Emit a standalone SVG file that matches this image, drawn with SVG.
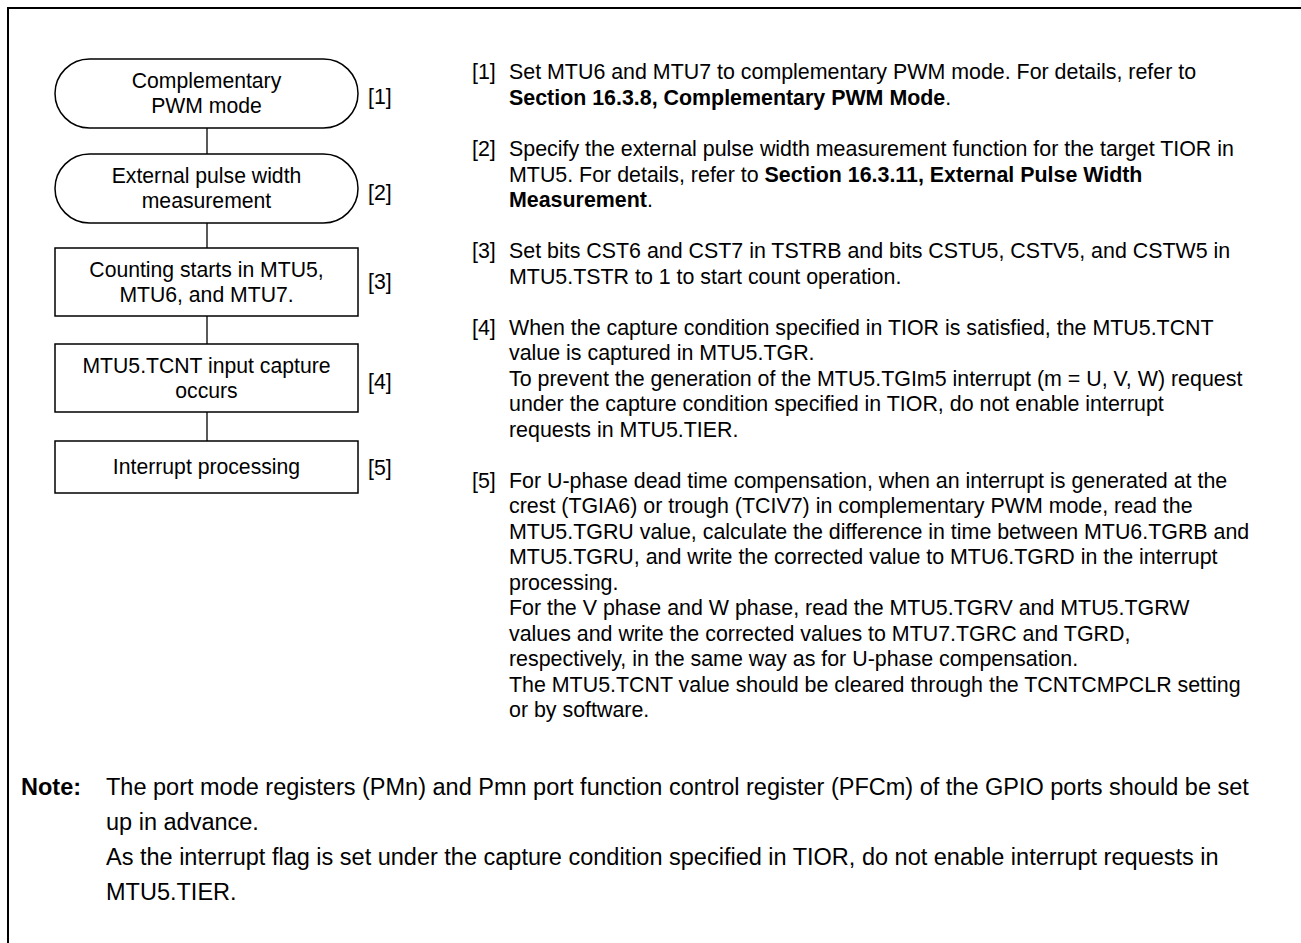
<svg xmlns="http://www.w3.org/2000/svg" width="1301" height="943" viewBox="0 0 1301 943">
<style>
text{font-family:"Liberation Sans",Arial,sans-serif;fill:#000;}
.n{font-size:21.2px;text-anchor:middle;}
.lb{font-size:21.3px;}
.t{font-size:21.4px;}
.nt{font-size:23.5px;}
.b{font-weight:bold;}
.box{fill:#fff;stroke:#000;stroke-width:1.5;}
.con{stroke:#000;stroke-width:1.3;fill:none;}
</style>
<rect width="1301" height="943" fill="#fff"/>
<path d="M8,943 V8 H1301" fill="none" stroke="#000" stroke-width="2"/>
<g id="connectors">
<line class="con" x1="207" y1="128" x2="207" y2="154"/>
<line class="con" x1="207" y1="223" x2="207" y2="248"/>
<line class="con" x1="207" y1="316" x2="207" y2="344"/>
<line class="con" x1="207" y1="412" x2="207" y2="441"/>
</g>
<g id="node1">
<rect class="box" x="55" y="59" width="303" height="69" rx="34.5" ry="34.5"/>
<text class="n" x="206.5" y="88">Complementary</text>
<text class="n" x="206.5" y="113">PWM mode</text>
<text class="lb" x="368" y="104">[1]</text>
</g>
<g id="node2">
<rect class="box" x="55" y="154" width="303" height="69" rx="34.5" ry="34.5"/>
<text class="n" x="206.5" y="183">External pulse width</text>
<text class="n" x="206.5" y="208">measurement</text>
<text class="lb" x="368" y="200">[2]</text>
</g>
<g id="node3">
<rect class="box" x="55" y="248" width="303" height="68"/>
<text class="n" x="206.5" y="277">Counting starts in MTU5,</text>
<text class="n" x="206.5" y="302">MTU6, and MTU7.</text>
<text class="lb" x="368" y="289">[3]</text>
</g>
<g id="node4">
<rect class="box" x="55" y="344" width="303" height="68"/>
<text class="n" x="206.5" y="373">MTU5.TCNT input capture</text>
<text class="n" x="206.5" y="398">occurs</text>
<text class="lb" x="368" y="389">[4]</text>
</g>
<g id="node5">
<rect class="box" x="55" y="441" width="303" height="52"/>
<text class="n" x="206.5" y="474">Interrupt processing</text>
<text class="lb" x="368" y="475">[5]</text>
</g>
<g id="steps">
<text class="t" x="472" y="79">[1]</text>
<text class="t" x="509" y="79">Set MTU6 and MTU7 to complementary PWM mode. For details, refer to</text>
<text class="t" x="509" y="105"><tspan class="b">Section 16.3.8, Complementary PWM Mode</tspan>.</text>
<text class="t" x="472" y="156">[2]</text>
<text class="t" x="509" y="156">Specify the external pulse width measurement function for the target TIOR in</text>
<text class="t" x="509" y="182">MTU5. For details, refer to <tspan class="b">Section 16.3.11, External Pulse Width</tspan></text>
<text class="t" x="509" y="207"><tspan class="b">Measurement</tspan>.</text>
<text class="t" x="472" y="258">[3]</text>
<text class="t" x="509" y="258">Set bits CST6 and CST7 in TSTRB and bits CSTU5, CSTV5, and CSTW5 in</text>
<text class="t" x="509" y="284">MTU5.TSTR to 1 to start count operation.</text>
<text class="t" x="472" y="335">[4]</text>
<text class="t" x="509" y="335">When the capture condition specified in TIOR is satisfied, the MTU5.TCNT</text>
<text class="t" x="509" y="360">value is captured in MTU5.TGR.</text>
<text class="t" x="509" y="386">To prevent the generation of the MTU5.TGIm5 interrupt (m = U, V, W) request</text>
<text class="t" x="509" y="411">under the capture condition specified in TIOR, do not enable interrupt</text>
<text class="t" x="509" y="437">requests in MTU5.TIER.</text>
<text class="t" x="472" y="488">[5]</text>
<text class="t" x="509" y="488">For U-phase dead time compensation, when an interrupt is generated at the</text>
<text class="t" x="509" y="513">crest (TGIA6) or trough (TCIV7) in complementary PWM mode, read the</text>
<text class="t" x="509" y="539">MTU5.TGRU value, calculate the difference in time between MTU6.TGRB and</text>
<text class="t" x="509" y="564">MTU5.TGRU, and write the corrected value to MTU6.TGRD in the interrupt</text>
<text class="t" x="509" y="590">processing.</text>
<text class="t" x="509" y="615">For the V phase and W phase, read the MTU5.TGRV and MTU5.TGRW</text>
<text class="t" x="509" y="641">values and write the corrected values to MTU7.TGRC and TGRD,</text>
<text class="t" x="509" y="666">respectively, in the same way as for U-phase compensation.</text>
<text class="t" x="509" y="692">The MTU5.TCNT value should be cleared through the TCNTCMPCLR setting</text>
<text class="t" x="509" y="717">or by software.</text>
</g>
<g id="note">
<text class="nt b" x="21" y="795">Note:</text>
<text class="nt" x="106" y="795">The port mode registers (PMn) and Pmn port function control register (PFCm) of the GPIO ports should be set</text>
<text class="nt" x="106" y="830">up in advance.</text>
<text class="nt" x="106" y="865">As the interrupt flag is set under the capture condition specified in TIOR, do not enable interrupt requests in</text>
<text class="nt" x="106" y="900">MTU5.TIER.</text>
</g>
</svg>
